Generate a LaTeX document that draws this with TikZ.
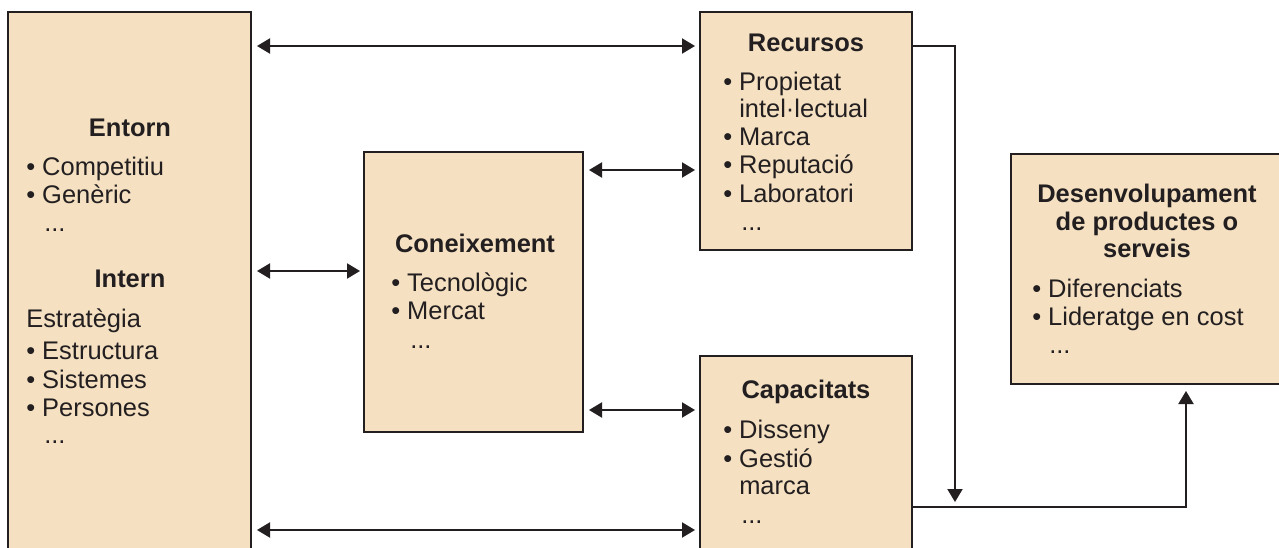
\documentclass[tikz,border=0pt]{standalone}
\usepackage{fontspec}
\setmainfont{Liberation Sans}
\usetikzlibrary{arrows.meta,calc}
\definecolor{boxfill}{RGB}{245,225,194}
\definecolor{ink}{RGB}{35,31,32}
\begin{document}
\begin{tikzpicture}[x=0.75pt,y=-0.75pt,
  box/.style={draw=ink, line width=1.5pt, fill=boxfill, rectangle,
    inner sep=0pt, outer sep=0pt, anchor=north west},
  ttl/.style={font=\bfseries\fontsize{19.1}{21}\selectfont, text=ink,
    anchor=base, inner sep=0pt},
  itm/.style={font=\fontsize{19.1}{21}\selectfont, text=ink,
    anchor=base west, inner sep=0pt},
  link/.style={draw=ink, line width=1.5pt},
  tip/.style={-{Triangle[length=9.75pt,width=11.25pt]}},
  both/.style={{Triangle[length=9.75pt,width=11.25pt]}-{Triangle[length=9.75pt,width=11.25pt]}}]

\fill[white] (0,0) rectangle (1279,547);
\useasboundingbox (0,0) rectangle (1279,547);

% boxes
\node[box, minimum width=182.25pt, minimum height=411pt] (entorn) at (8,12) {};
\node[box, minimum width=164.25pt, minimum height=210pt] (conei) at (364,152) {};
\node[box, minimum width=159pt, minimum height=178.5pt] (recur) at (700,12) {};
\node[box, minimum width=159pt, minimum height=153pt] (capac) at (700,356) {};
\node[box, minimum width=209.25pt, minimum height=172.5pt] (desen) at (1011,154) {};

% left box text
\node[ttl] (t-entorn) at (130,136) {Entorn};
\node[itm] (e1) at (26,175) {• Competitiu};
\node[itm] (e2) at (26,203) {• Genèric};
\node[itm] (e3) at (44,231) {...};
\node[ttl] (t-intern) at (130,287) {Intern};
\node[itm] (i0) at (26,327) {Estratègia};
\node[itm] (i1) at (26,359) {• Estructura};
\node[itm] (i2) at (26,388) {• Sistemes};
\node[itm] (i3) at (26,416) {• Persones};
\node[itm] (i4) at (44,443) {...};

% knowledge box text
\node[ttl] (t-conei) at (475,252) {Coneixement};
\node[itm] (c1) at (391,291) {• Tecnològic};
\node[itm] (c2) at (391,319) {• Mercat};
\node[itm] (c3) at (410,348) {...};

% resources box text
\node[ttl] (t-recur) at (806,51) {Recursos};
\node[itm] (r1) at (723,90) {• Propietat};
\node[itm] (r1b) at (739,117) {intel·lectual};
\node[itm] (r2) at (723,145) {• Marca};
\node[itm] (r3) at (723,173) {• Reputació};
\node[itm] (r4) at (723,202) {• Laboratori};
\node[itm] (r5) at (741,230) {...};

% capabilities box text
\node[ttl] (t-capac) at (806,398) {Capacitats};
\node[itm] (k1) at (723,438) {• Disseny};
\node[itm] (k2) at (723,467) {• Gestió};
\node[itm] (k2b) at (739,494) {marca};
\node[itm] (k3) at (741,523) {...};

% development box text
\node[ttl] (t-desen1) at (1147,202) {Desenvolupament};
\node[ttl] (t-desen2) at (1147,230) {de productes o};
\node[ttl] (t-desen3) at (1147,257) {serveis};
\node[itm] (d1) at (1032,297) {• Diferenciats};
\node[itm] (d2) at (1032,325) {• Lideratge en cost};
\node[itm] (d3) at (1049,353) {...};

% two-way links
\draw[link,both,shorten <=4.5pt,shorten >=3.75pt] (entorn.east |- 0,46) -- (recur.west |- 0,46);
\draw[link,both,shorten <=4.5pt,shorten >=3pt] (entorn.east |- 0,271) -- (conei.west |- 0,271);
\draw[link,both,shorten <=4.5pt,shorten >=3.75pt] (conei.east |- 0,170) -- (recur.west |- 0,170);
\draw[link,both,shorten <=4.5pt,shorten >=3.75pt] (conei.east |- 0,410) -- (capac.west |- 0,410);
\draw[link,both,shorten <=4.5pt,shorten >=3.75pt] (entorn.east |- 0,530) -- (capac.west |- 0,530);

% flows towards development
\coordinate (drop) at (955,502);
\draw[link,tip] (recur.east |- 0,46) -| (drop);
\draw[link,tip,shorten >=5.25pt] (capac.east |- 0,507) -| (desen.south -| 1186,0);
\end{tikzpicture}
\end{document}
